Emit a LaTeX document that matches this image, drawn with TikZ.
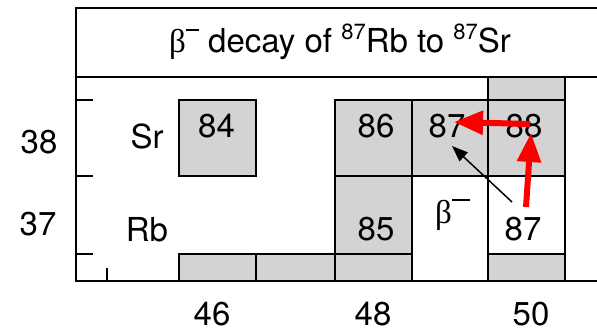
\documentclass[tikz,border=0pt]{standalone}
\usepackage{fontspec}
\setmainfont{TeX Gyre Heros}
\newfontfamily\grk{Liberation Serif}
\usetikzlibrary{arrows.meta}
\definecolor{cellgray}{RGB}{211,211,211}
\definecolor{arrred}{RGB}{250,0,0}
\newcommand{\betaminus}[1][0.4em]{{\grk β}\raisebox{0.66em}{\rule{#1}{1.8pt}}}
\newcommand{\supnum}[1]{\raisebox{0.42em}{\fontsize{22}{22}\selectfont #1}}
\begin{document}
\begin{tikzpicture}[x=1pt,y=-1pt,
  frame/.style={line width=2.6pt},
  cellbox/.style={draw, line width=2.4pt, rectangle, inner sep=0pt, outer sep=0pt},
  grey/.style={cellbox, fill=cellgray},
  txt/.style={font=\fontsize{33}{38}\selectfont, inner sep=0pt, anchor=base},
  redarrow/.style={draw=arrred, line width=6pt, -{Triangle[length=29pt,width=23pt]}},
  blkarrow/.style={draw=black, line width=1.5pt, -{Triangle[length=16pt,width=12pt]}}
]
\useasboundingbox (0,0) rectangle (597,329);
% cells
\node[grey, minimum width=77pt, minimum height=76pt] (c84) at (217.5,138) {};
\node[grey, minimum width=77pt, minimum height=27pt] (g46) at (217.5,267.5) {};
\node[grey, minimum width=79pt, minimum height=27pt] (g47) at (295.5,267.5) {};
\node[grey, minimum width=77pt, minimum height=76pt] (c86) at (373.5,138) {};
\node[grey, minimum width=77pt, minimum height=78pt] (c85) at (373.5,215) {};
\node[grey, minimum width=77pt, minimum height=27pt] (g48) at (373.5,267.5) {};
\node[grey, minimum width=76pt, minimum height=76pt] (c87s) at (450,138) {};
\node[grey, minimum width=77pt, minimum height=23pt] (g50t) at (526.5,88.5) {};
\node[grey, minimum width=77pt, minimum height=76pt] (c88) at (526.5,138) {};
\node[cellbox, fill=white, minimum width=77pt, minimum height=78pt] (c87r) at (526.5,215) {};
\node[grey, minimum width=77pt, minimum height=27pt] (g50) at (526.5,267.5) {};
% frame
\coordinate (tl) at (76,8);
\coordinate (tr) at (597,8);
\coordinate (ml) at (76,77);
\coordinate (mr) at (597,77);
\coordinate (bl) at (76,281);
\coordinate (br) at (597,281);
\draw[frame] (tr) -- (tl) -- (bl) -- (br);
\draw[frame] (ml) -- (mr);
% ticks
\draw[frame] (76,100) -- (93,100);
\draw[frame] (76,176) -- (93,176);
\draw[frame] (76,254) -- (93,254);
\draw[frame] (107,281) -- (107,268);
% title
\node[txt] (title) at (340,53) {\betaminus{} decay of \supnum{87}Rb to \supnum{87}Sr};
% axis labels
\node[txt] (y38) at (39,153) {38};
\node[txt] (y37) at (38,235) {37};
\node[txt] (x46) at (212,325.5) {46};
\node[txt] (x48) at (373,325.5) {48};
\node[txt] (x50) at (531,325.5) {50};
\node[txt] (sr) at (147,148) {Sr};
\node[txt] (rb) at (147,241) {Rb};
% cell numbers
\node[txt] (n84) at (216.5,137) {84};
\node[txt] (n86) at (376,137) {86};
\node[txt] (n87s) at (447,137) {87};
\node[txt] (n88) at (524,137) {88};
\node[txt] (n85) at (376,240) {85};
\node[txt] (n87r) at (523,240) {87};
\node[txt, anchor=base west] (beta) at (435,223) {\betaminus[0.55em]};
% arrows
\coordinate (a1s) at (526,207);
\coordinate (a1e) at (531,133);
\coordinate (a2s) at (530,124);
\coordinate (a2e) at (454,122);
\coordinate (a3s) at (512,202);
\coordinate (a3e) at (452,146);
\draw[blkarrow] (a3s) -- (a3e);
\draw[redarrow] (a1s) -- (a1e);
\draw[redarrow] (a2s) -- (a2e);
\end{tikzpicture}
\end{document}
